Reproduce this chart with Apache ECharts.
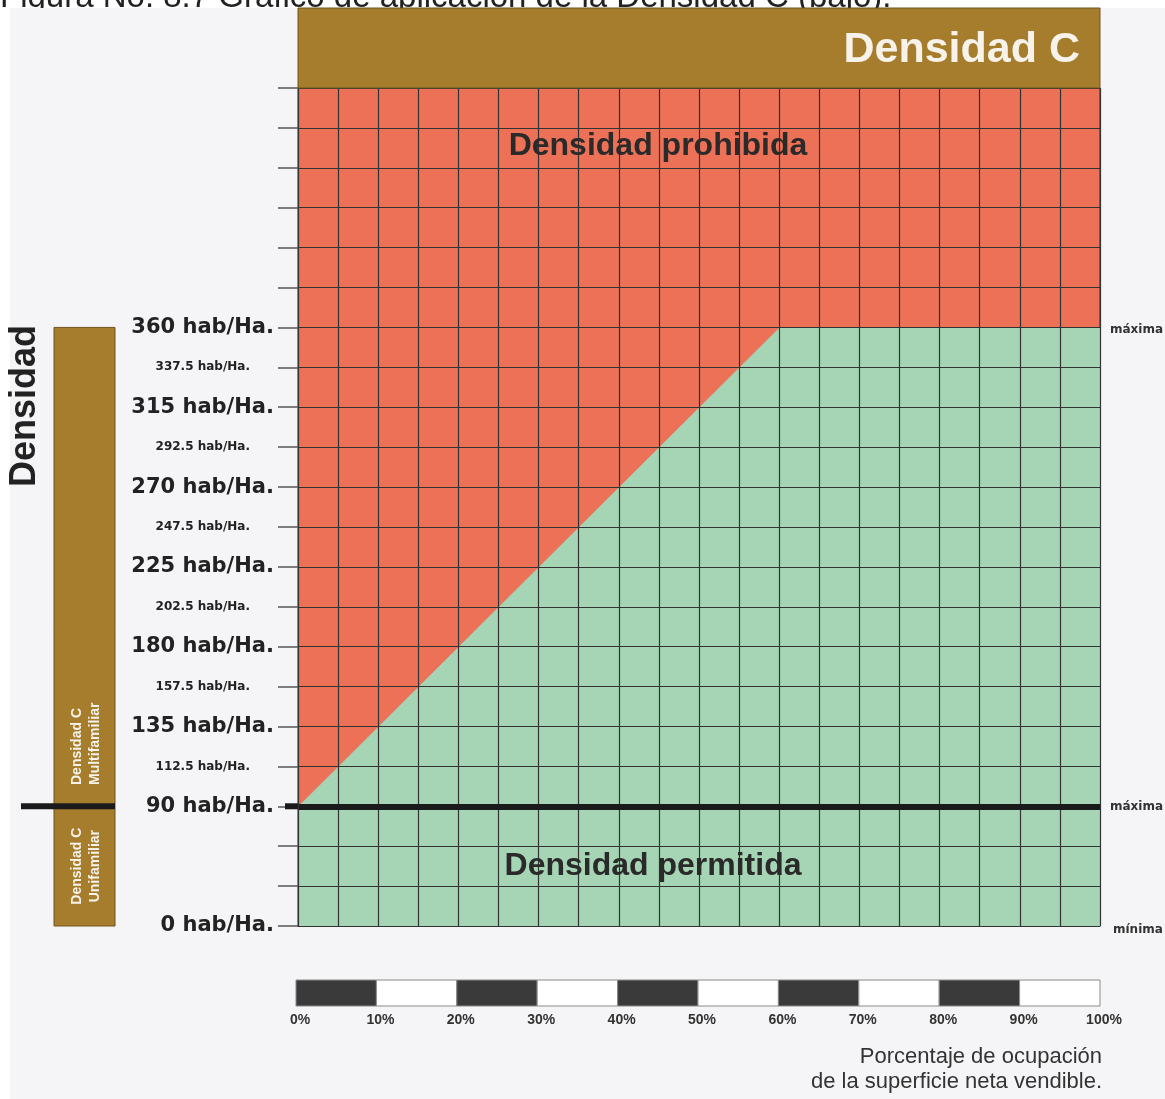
<!DOCTYPE html>
<html><head><meta charset="utf-8">
<script src="https://cdn.jsdelivr.net/npm/echarts@6/dist/echarts.min.js"></script>
<style>html,body{margin:0;padding:0;background:#fff}#c{width:1165px;height:1099px}</style>
</head><body><div id="c"></div>
<script>
// ---- data ----
const percentTicks = [0,10,20,30,40,50,60,70,80,90,100];
const scaleSegments = [[0,10],[10,20],[20,30],[30,40],[40,50],[50,60],[60,70],[70,80],[80,90],[90,100]];
const boundaryPct = [0, 60, 100];
const boundaryDensity = [90, 360, 360];
const majorDensity = [0, 90, 135, 180, 225, 270, 315, 360];
const minorDensity = [112.5, 157.5, 202.5, 247.5, 292.5, 337.5];
const unifamiliarMax = 90;
const multifamiliarMax = 360;
const densityMin = 0;
const topRow = 21;
const lowStep = 30, highStep = 22.5;

function densityToRow(d){ return d <= unifamiliarMax ? d/lowStep : unifamiliarMax/lowStep + (d-unifamiliarMax)/highStep; }
function rowToDensity(r){ const b = unifamiliarMax/lowStep; return r <= b ? r*lowStep : unifamiliarMax + (r-b)*highStep; }
function near(list, v){ return list.some(x => Math.abs(x - v) < 1e-6); }

const LBL = '"DejaVu Sans", sans-serif';
const SANS = '"Liberation Sans", Arial, sans-serif';
const RED = '#ec7157', GREEN = '#a6d5b5', BROWN = '#a57d2c', GRIDC = '#333333';

const chart = echarts.init(document.getElementById('c'), null, {renderer:'canvas'});
const option = {
  backgroundColor: '#ffffff',
  animation: false,
  grid: [
    {left: 298, right: 65, top: 88, bottom: 173, show: true, backgroundColor: RED, borderColor: GRIDC, borderWidth: 1},
    {left: 296, right: 65, top: 980, height: 26, show: false}
  ],
  xAxis: [
    {gridIndex: 0, type: 'value', min: 0, max: 100, interval: 5, z: 5,
     axisLine: {show: true, lineStyle: {color: GRIDC, width: 1}},
     axisTick: {show: false}, axisLabel: {show: false},
     splitLine: {show: true, lineStyle: {color: GRIDC, width: 1.2}}},
    {gridIndex: 1, type: 'value', min: 0, max: 100, interval: 10,
     axisLine: {show: false}, axisTick: {show: false}, splitLine: {show: false},
     axisLabel: {show: true, margin: 7, formatter: function(v){ return near(percentTicks, v) ? v + '%' : ''; },
       fontFamily: SANS, fontWeight: 'bold', fontSize: 14, color: '#333', padding: [0, 0, 0, 8]}}
  ],
  yAxis: [
    {gridIndex: 0, type: 'value', min: 0, max: topRow, interval: 1, z: 5,
     axisLine: {show: true, lineStyle: {color: GRIDC, width: 1}},
     axisTick: {show: true, length: 20, lineStyle: {color: '#555', width: 1.5}},
     splitLine: {show: true, lineStyle: {color: GRIDC, width: 1.2}},
     axisLabel: {show: true, margin: 24,
       formatter: function(v){
         const d = rowToDensity(v);
         if (near(majorDensity, d)) return '{b|' + d + ' hab/Ha.}';
         if (near(minorDensity, d)) return '{s|' + d + ' hab/Ha.}';
         return '';
       },
       rich: {
         b: {fontFamily: LBL, fontWeight: 'bold', fontSize: 21, color: '#222'},
         s: {fontFamily: LBL, fontWeight: 'bold', fontSize: 12, color: '#222', padding: [0, 24, 0, 0]}
       }}},
    {gridIndex: 1, type: 'value', min: 0, max: 1, show: false}
  ],
  series: [
    {type: 'line', xAxisIndex: 0, yAxisIndex: 0, z: 2,
     data: boundaryPct.map((p, i) => [p, densityToRow(boundaryDensity[i])]),
     showSymbol: false, symbol: 'none',
     lineStyle: {width: 0.8, color: '#e0775e'},
     areaStyle: {color: GREEN, opacity: 1, origin: 'start'},
     markLine: {silent: true, symbol: ['none','none'], label: {show: false},
       lineStyle: {color: '#1b1b1b', width: 6, type: 'solid'},
       data: [{yAxis: densityToRow(unifamiliarMax)}]}},
    {type: 'custom', xAxisIndex: 1, yAxisIndex: 1,
     data: scaleSegments, encode: {x: [0, 1]},
     renderItem: function(params, api){
       const s = api.coord([api.value(0), 1]);
       const e = api.coord([api.value(1), 0]);
       return {type: 'rect', shape: {x: s[0], y: s[1], width: e[0]-s[0], height: e[1]-s[1]},
               style: {fill: params.dataIndex % 2 === 0 ? '#3a3a3a' : '#ffffff', stroke: '#8a8a8a', lineWidth: 1}};
     }}
  ]
};
chart.setOption(option);

const px = (p, d) => chart.convertToPixel({gridIndex: 0}, [p, densityToRow(d)]);
const x0 = px(0, 0)[0], x1 = px(100, 0)[0];
const yTop = chart.convertToPixel({gridIndex: 0}, [0, topRow])[1];
const y90 = px(0, unifamiliarMax)[1], y360 = px(0, multifamiliarMax)[1], y0 = px(0, densityMin)[1];

chart.setOption({graphic: [
  {type: 'text', z: -200, silent: true, x: 0, y: 14,
   style: {text: 'Figura No. 8.7 Gráfico de aplicación de la Densidad C (bajo).', font: '33px ' + SANS, fill: '#222', verticalAlign: 'bottom'}},
  {type: 'rect', z: -100, silent: true, shape: {x: 10, y: 8, width: 1155, height: 1091}, style: {fill: '#f5f4f6'}},
  {type: 'rect', z: 10, shape: {x: x0, y: 8, width: x1 - x0, height: yTop - 8}, style: {fill: BROWN, stroke: '#6e5520', lineWidth: 1}},
  {type: 'text', z: 11, x: x1 - 20, y: (8 + yTop) / 2 + 2,
   style: {text: 'Densidad C', font: 'bold 43px ' + SANS, fill: '#f7f3ea', align: 'right', verticalAlign: 'middle'}},
  {type: 'text', z: 11, x: 658, y: 146,
   style: {text: 'Densidad prohibida', font: 'bold 32px ' + SANS, fill: '#2a2a2a', align: 'center', verticalAlign: 'middle'}},
  {type: 'text', z: 11, x: 653, y: 866,
   style: {text: 'Densidad permitida', font: 'bold 32px ' + SANS, fill: '#2a2a2a', align: 'center', verticalAlign: 'middle'}},
  {type: 'text', z: 11, x: 25, y: 406, rotation: Math.PI / 2,
   style: {text: 'Densidad', font: 'bold 36px ' + SANS, fill: '#222', align: 'center', verticalAlign: 'middle'}},
  {type: 'rect', z: 10, shape: {x: 54, y: y360, width: 61, height: y0 - y360}, style: {fill: BROWN, stroke: '#6e5520', lineWidth: 1}},
  {type: 'text', z: 11, x: 86, y: 785, rotation: Math.PI / 2,
   style: {text: 'Densidad C\nMultifamiliar', font: 'bold 14px ' + SANS, fill: '#f7f3ea', align: 'left', verticalAlign: 'middle', lineHeight: 18}},
  {type: 'text', z: 11, x: 86, y: (y90 + y0) / 2, rotation: Math.PI / 2,
   style: {text: 'Densidad C\nUnifamiliar', font: 'bold 14px ' + SANS, fill: '#f7f3ea', align: 'center', verticalAlign: 'middle', lineHeight: 18}},
  {type: 'line', z: 12, shape: {x1: 21, y1: y90, x2: 115, y2: y90}, style: {stroke: '#1b1b1b', lineWidth: 6}},
  {type: 'line', z: 12, shape: {x1: 285, y1: y90, x2: x0, y2: y90}, style: {stroke: '#1b1b1b', lineWidth: 6}},
  {type: 'text', z: 11, x: 1110, y: y360 + 2, style: {text: 'máxima', font: 'bold 12px ' + LBL, fill: '#333', verticalAlign: 'middle'}},
  {type: 'text', z: 11, x: 1110, y: y90 + 1, style: {text: 'máxima', font: 'bold 12px ' + LBL, fill: '#333', verticalAlign: 'middle'}},
  {type: 'text', z: 11, x: 1113, y: y0 + 4, style: {text: 'mínima', font: 'bold 12px ' + LBL, fill: '#333', verticalAlign: 'middle'}},
  {type: 'text', z: 11, x: 1102, y: 1057, style: {text: 'Porcentaje de ocupación', font: '22px ' + SANS, fill: '#333', align: 'right', verticalAlign: 'middle'}},
  {type: 'text', z: 11, x: 1102, y: 1082, style: {text: 'de la superficie neta vendible.', font: '22px ' + SANS, fill: '#333', align: 'right', verticalAlign: 'middle'}}
]});
</script></body></html>
